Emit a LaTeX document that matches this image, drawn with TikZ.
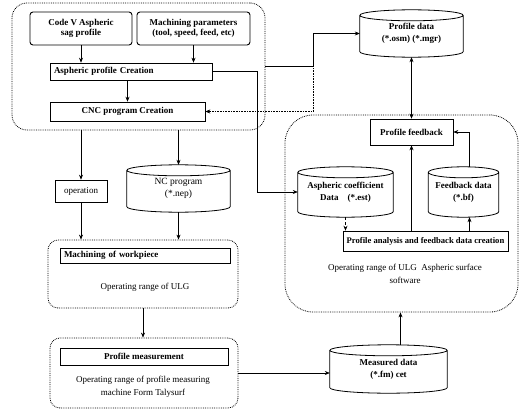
\documentclass[tikz,border=0pt]{standalone}
\usepackage{fontspec}
\setmainfont{Liberation Serif}
\usetikzlibrary{arrows.meta,calc}
\tikzset{
  container/.style={draw, densely dotted, line width=0.8pt, rounded corners=#1, inner sep=0pt},
  boxb/.style={draw, line width=0.6pt, inner sep=2pt, align=center, font=\fontsize{9}{10.5}\selectfont\bfseries},
  boxr/.style={draw, line width=0.6pt, inner sep=2pt, align=center, font=\fontsize{9}{10}\selectfont},
  cylb/.style={inner sep=0pt, align=center, font=\fontsize{9}{12}\selectfont\bfseries},
  cylr/.style={inner sep=0pt, align=center, font=\fontsize{9.5}{12}\selectfont},
  lab/.style={inner sep=0pt, align=center, font=\fontsize{9}{13}\selectfont},
  cylline/.style={line width=0.8pt},
  arr/.style={-{Stealth[length=5pt,width=4pt]}, line width=0.6pt},
  arrr/.style={{Stealth[length=5pt,width=4pt]}-{Stealth[length=5pt,width=4pt]}, line width=0.6pt},
}
\newcommand{\cylout}[1]{%
  \draw[cylline] let \p1=(#1.north west), \p2=(#1.south east), \n1={0.5*(\x2-\x1)} in
   (\x1,\y1-5.5pt) -- (\x1,\y2+5.5pt) arc[start angle=180,end angle=360,x radius=\n1,y radius=5.5pt]
   -- (\x2,\y1-5.5pt) arc[start angle=0,end angle=360,x radius=\n1,y radius=5.5pt];}
\begin{document}
\begin{tikzpicture}[x=1pt,y=1pt]
\useasboundingbox (0,0) rectangle (522,-412);
% containers
\node[container=15pt, minimum width=253pt, minimum height=127pt] (topC) at (138.5,-66.5) {};
\node[container=28pt, minimum width=233pt, minimum height=197pt] (rightC) at (401.5,-213.5) {};
\node[container=10pt, minimum width=190pt, minimum height=68pt] (machC) at (143,-274) {};
\node[container=10pt, minimum width=188pt, minimum height=70pt] (pmC) at (144,-373) {};
% top group
\node[boxb, rounded corners=3pt, minimum width=102pt, minimum height=33pt, line width=0.9pt] (codev) at (81,-28.5) {Code V Aspheric\\sag profile};
\node[boxb, rounded corners=3pt, minimum width=113pt, minimum height=33pt, line width=0.9pt] (mparam) at (193.5,-28.5) {Machining parameters\\(tool, speed, feed, etc)};
\node[boxb, text width=154pt, align=left, inner xsep=4pt, minimum height=17pt] (apc) at (131,-71.5) {Aspheric profile Creation};
\node[boxb, minimum width=155pt, minimum height=19pt] (cnc) at (127.5,-111.5) {CNC program Creation};
% cylinders
\node[cylb, minimum width=103pt, minimum height=47pt] (pdata) at (411.5,-33.5) {Profile data\\(*.osm) (*.mgr)};
\cylout{pdata}
\node[cylr, minimum width=103pt, minimum height=47pt] (nc) at (178.5,-188.5) {NC program\\(*.nep)};
\cylout{nc}
\node[cylb, minimum width=95pt, minimum height=50pt] (asc) at (345.5,-192) {Aspheric coefficient\\Data\quad(*.est)};
\cylout{asc}
\node[cylb, minimum width=70pt, minimum height=50pt] (fbd) at (463.5,-192) {Feedback data\\(*.bf)};
\cylout{fbd}
\node[cylb, minimum width=117pt, minimum height=48pt] (md) at (388.5,-369) {Measured data\\(*.fm) cet};
\cylout{md}
% other boxes
\node[boxr, minimum width=52pt, minimum height=22pt] (op) at (81,-191) {operation};
\node[boxb, text width=162pt, align=left, inner xsep=4pt, minimum height=15pt] (mw) at (145,-255.5) {Machining of workpiece};
\node[lab] (ulg) at (145,-287) {Operating range of ULG};
\node[boxb, minimum width=168pt, minimum height=17pt] (pm) at (144,-356.5) {Profile measurement};
\node[lab] (pmlab) at (143,-386.5) {Operating range of profile measuring\\machine Form Talysurf};
\node[boxb, minimum width=83pt, minimum height=26pt] (pfb) at (411.5,-132) {Profile feedback};
\node[boxb, font=\fontsize{8.6}{10}\selectfont\bfseries, minimum width=165pt, minimum height=20pt] (pan) at (425.5,-241) {Profile analysis and feedback data creation};
\node[lab] (rlab) at (405,-273.5) {Operating range of ULG\ \ Aspheric surface\\software};
% helper coordinates
\coordinate (c1) at (257,0);
\coordinate (c2) at (313,-66.5);
% connectors
\draw[arr] (codev.south) -- (codev.south |- apc.north);
\draw[arr] (mparam.south) -- (mparam.south |- apc.north);
\draw[arr] (cnc.north |- apc.south) -- (cnc.north);
\draw[arr] (apc.east) -| (c1 |- asc.west) -- (asc.west);
\draw[arr] (topC.east |- c2) -- (c2) |- (pdata.west);
\draw[arr, densely dotted] (c2) |- (cnc.east);
\draw[arr] (op.north |- topC.south) -- (op.north);
\draw[arr] (nc.north |- topC.south) -- (nc.north);
\draw[arr] (op.south) -- (op.south |- machC.north);
\draw[arr] (nc.south) -- (nc.south |- machC.north);
\draw[arr] (machC.south) -- (machC.south |- pmC.north);
\draw[arr] (pmC.east) -- (pmC.east -| md.west);
\draw[arr] ([xshift=12pt]md.north) -- ([xshift=12pt]md.north |- rightC.south);
\draw[arrr] (pdata.south) -- (pfb.north);
\draw[arr] ([xshift=6pt]fbd.north) |- (pfb.east);
\draw[arr] (pfb.south |- pan.north) -- (pfb.south);
\draw[arr] ([xshift=6pt]fbd.south |- pan.north) -- ([xshift=6pt]fbd.south);
\draw[arr, densely dashed] (asc.south) -- (asc.south |- pan.north);
\end{tikzpicture}
\end{document}
